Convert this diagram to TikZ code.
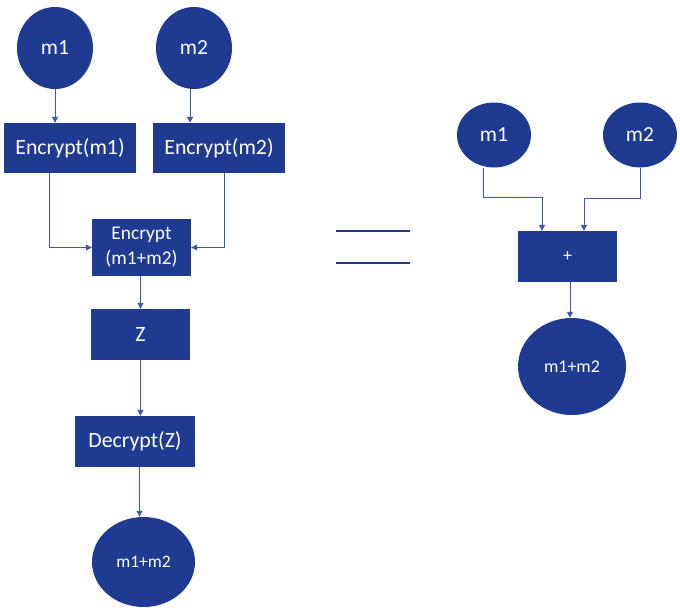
\documentclass[tikz,border=0pt]{standalone}
\usepackage{fontspec}
\setmainfont{Carlito}
\usetikzlibrary{shapes.geometric,arrows.meta}
\definecolor{dblue}{RGB}{31,58,145}
\definecolor{lblue}{RGB}{60,88,170}
\tikzset{
  oval/.style={ellipse,fill=dblue,draw=none,text=white,inner sep=0pt,font=\fontsize{21.5}{26}\selectfont},
  blk/.style={rectangle,fill=dblue,draw=none,text=white,inner sep=0pt,font=\fontsize{21.8}{26}\selectfont},
  arr/.style={draw=lblue,line width=1pt,-{Triangle[length=6pt,width=6pt]}},
  eqline/.style={draw=dblue,line width=2pt}
}
\begin{document}
\begin{tikzpicture}[x=1pt,y=-1pt]
\path[use as bounding box,fill=white] (0,0) rectangle (680,610);
% left column
\node[oval,minimum width=76pt,minimum height=82pt] (lm1) at (55,48) {m1};
\node[oval,minimum width=76pt,minimum height=82pt] (lm2) at (194,48) {m2};
\node[blk,minimum width=132pt,minimum height=50pt] (e1) at (70,148) {Encrypt(m1)};
\node[blk,minimum width=132pt,minimum height=50pt] (e2) at (219,148) {Encrypt(m2)};
\node[blk,minimum width=99pt,minimum height=57pt,align=center,font=\fontsize{19.4}{25}\selectfont] (e12) at (141.5,247.5) {Encrypt\\(m1+m2)};
\node[blk,minimum width=99pt,minimum height=51pt] (z) at (140.5,334.5) {Z};
\node[blk,minimum width=120pt,minimum height=51pt] (d) at (135,441.5) {Decrypt(Z)};
\node[oval,minimum width=103pt,minimum height=90pt,font=\fontsize{17.5}{21}\selectfont] (lr) at (143.5,562) {m1+m2};
\draw[arr] (lm1.south) -- (lm1.south |- e1.north);
\draw[arr] ([xshift=-4]lm2.south) -- ([xshift=-4]lm2.south |- e2.north);
\draw[arr] ([xshift=-21]e1.south) |- (e12.west);
\draw[arr] ([xshift=5]e2.south) |- (e12.east);
\draw[arr] ([xshift=-1]e12.south) -- ([xshift=-1]e12.south |- z.north);
\draw[arr] (z.south) -- (z.south |- d.north);
\draw[arr] ([xshift=-1]z.south |- d.south) -- ([xshift=-1]z.south |- lr.north);
% equals
\draw[eqline] (336,231) -- (410,231);
\draw[eqline] (336,263) -- (410,263);
% right side
\node[oval,minimum width=74pt,minimum height=65pt] (rm1) at (494,135) {m1};
\node[oval,minimum width=74pt,minimum height=65pt] (rm2) at (640,135) {m2};
\node[blk,minimum width=99pt,minimum height=51pt,font=\fontsize{18}{22}\selectfont] (plus) at (567.5,256.5) {+};
\node[oval,minimum width=108pt,minimum height=97pt,font=\fontsize{18}{22}\selectfont] (rr) at (572,366.5) {m1+m2};
\draw[arr] ([xshift=-11]rm1.south) -- ++(0,30) -| ([xshift=-25.5]plus.north);
\draw[arr] (rm2.south) -- ++(0,31) -| ([xshift=16.5]plus.north);
\draw[arr] ([xshift=2.5]plus.south) -- ([xshift=2.5]plus.south |- rr.north);
\end{tikzpicture}
\end{document}
